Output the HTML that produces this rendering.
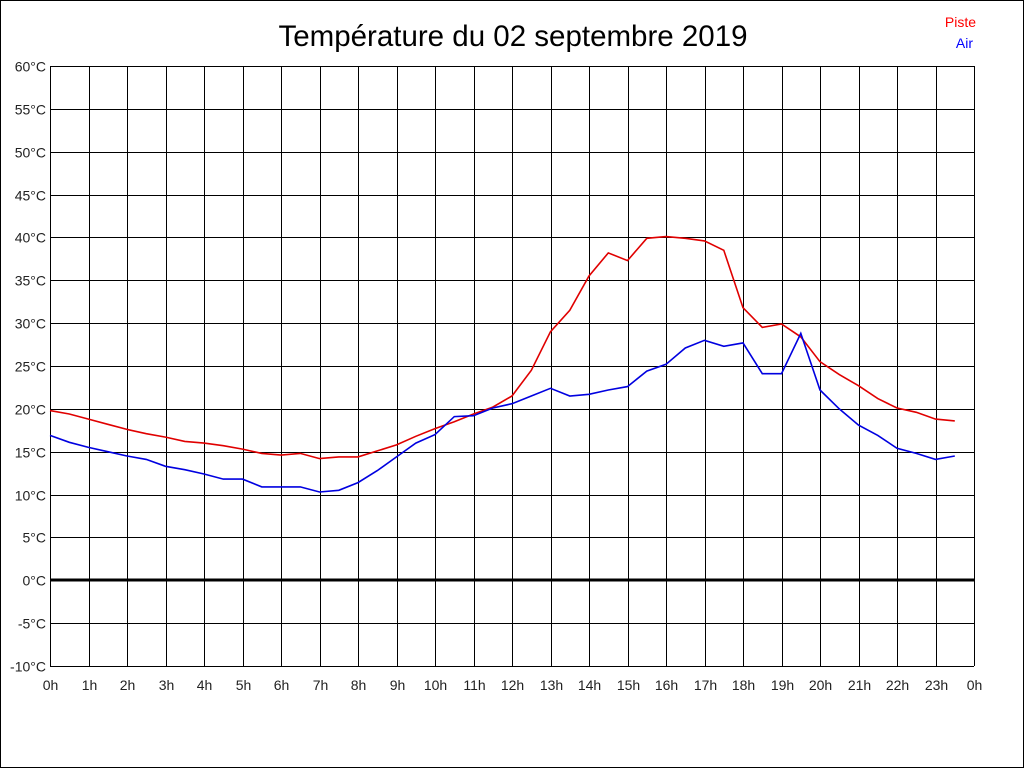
<!DOCTYPE html>
<html><head><meta charset="utf-8"><style>
html,body{margin:0;padding:0;background:#fff}
svg{display:block}
text{font-family:"Liberation Sans",sans-serif}
</style></head><body>
<svg id="s" width="1024" height="768" xmlns="http://www.w3.org/2000/svg">
<rect x="0.5" y="0.5" width="1023" height="767" fill="#fff" stroke="#000"/>
<text x="513" y="46" font-size="29.5" text-anchor="middle">Température du 02 septembre 2019</text>
<text x="976" y="27" font-size="14" fill="#f00" text-anchor="end">Piste</text>
<text x="973" y="48" font-size="14" fill="#00f" text-anchor="end">Air</text>
<g id="g"></g>
</svg>
<script>
var g=document.getElementById('g'),h='';
function X(t){return 50+t*38.5}
function Y(v){return 66+(60-v)*600/70}
for(var i=0;i<=14;i++){var v=60-i*5,y=Math.round(Y(v))+0.5;
 h+='<line x1="50" x2="974" y1="'+y+'" y2="'+y+'" stroke="#000"/>';
 h+='<text x="46" y="'+(y+5)+'" font-size="14" text-anchor="end" fill="#222">'+v+'°C</text>';}
for(var i=0;i<=24;i++){var x=Math.round(X(i))+0.5;
 h+='<line x1="'+x+'" x2="'+x+'" y1="66" y2="666" stroke="#000"/>';
 h+='<text x="'+x+'" y="690" font-size="14" text-anchor="middle" fill="#222">'+(i%24)+'h</text>';}
h+='<line x1="50" x2="974" y1="580" y2="580" stroke="#000" stroke-width="3"/>';
var r=[19.8,19.4,18.8,18.2,17.6,17.1,16.7,16.2,16,15.7,15.3,14.8,14.6,14.8,14.2,14.4,14.4,15.1,15.8,16.8,17.7,18.5,19.4,20.2,21.5,24.5,29,31.5,35.5,38.2,37.3,39.9,40.1,39.9,39.6,38.5,31.8,29.5,29.9,28.4,25.5,24,22.7,21.2,20.1,19.6,18.8,18.6];
var b=[16.9,16.1,15.5,15,14.5,14.1,13.3,12.9,12.4,11.8,11.8,10.9,10.9,10.9,10.3,10.5,11.4,12.8,14.4,16,17,19.1,19.2,20.1,20.6,21.5,22.4,21.5,21.7,22.2,22.6,24.4,25.2,27.1,28,27.3,27.7,24.1,24.1,28.8,22.2,20,18.1,16.9,15.4,14.8,14.1,14.5];
function P(a,c){var p=a.map(function(v,i){return X(i/2).toFixed(1)+','+Y(v).toFixed(1)}).join(' ');
 return '<polyline points="'+p+'" fill="none" stroke="'+c+'" stroke-width="1.6"/>';}
h+=P(r,'#e00000')+P(b,'#0000e0');
g.innerHTML=h;
</script>
</body></html>
